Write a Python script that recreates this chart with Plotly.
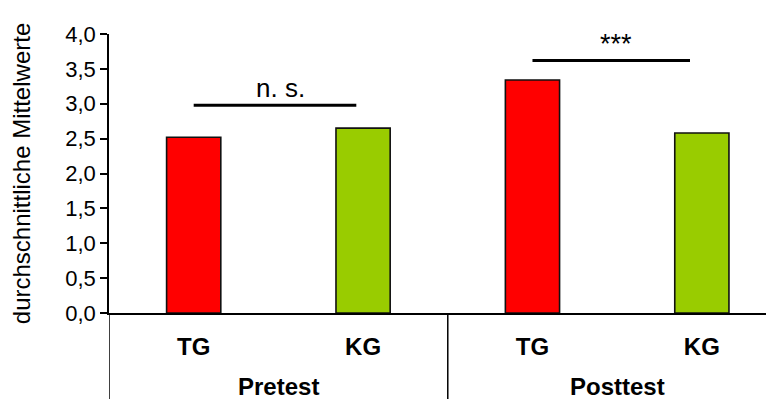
import plotly.graph_objects as go

categories = ["TG", "KG", "TG", "KG"]
groups = ["Pretest", "Posttest"]
values = [2.52, 2.65, 3.34, 2.58]
colors = ["#FF0000", "#99CC00", "#FF0000", "#99CC00"]
y_ticks = [0, 0.5, 1.0, 1.5, 2.0, 2.5, 3.0, 3.5, 4.0]
y_ticklabels = [f"{v:.1f}".replace(".", ",") for v in y_ticks]
sig_labels = ["n. s.", "***"]
sig_heights = [2.98, 3.62]
sig_spans = [(0, 0.96), (2.0, 2.93)]

x = list(range(len(categories)))

fig = go.Figure()
fig.add_trace(go.Bar(
    x=x, y=values, width=0.32,
    marker=dict(color=colors, line=dict(color="#111111", width=1.6)),
    hoverinfo="y",
))

FONT = "Liberation Sans, Arial, sans-serif"

for (x0, x1), h, lab, fs in zip(sig_spans, sig_heights, sig_labels, [26, 27]):
    fig.add_shape(type="line", x0=x0, x1=x1, y0=h, y1=h, xref="x", yref="y",
                  line=dict(color="black", width=3))
    fig.add_annotation(x=(x0 + x1) / 2 + 0.03, y=h, xref="x", yref="y", text=lab,
                       showarrow=False, yanchor="bottom", yshift=0,
                       font=dict(family=FONT, size=fs, color="black"))

# group separators below the axis
for xs in [-0.5, 1.5]:
    fig.add_shape(type="line", x0=xs, x1=xs, y0=0, y1=-0.36, xref="x", yref="paper",
                  line=dict(color="black", width=1.5))

for i, g in enumerate(groups):
    fig.add_annotation(x=2 * i + 0.5, y=-0.265, xref="x", yref="paper",
                       text=f"<b>{g}</b>", showarrow=False, yanchor="middle",
                       font=dict(family=FONT, size=24, color="black"))

fig.update_layout(
    width=774, height=399,
    margin=dict(l=101, r=9, t=26, b=94, autoexpand=False),
    paper_bgcolor="white", plot_bgcolor="white",
    showlegend=False,
    font=dict(family=FONT, color="black"),
    xaxis=dict(
        range=[-0.5, 3.42], tickvals=x,
        ticktext=[f"<b>{c}</b>" for c in categories],
        tickfont=dict(family=FONT, size=24, color="black"),
        showline=True, linecolor="black", linewidth=1.5,
        ticks="", showgrid=False, zeroline=False,
        ticklabelstandoff=11, automargin=False,
    ),
    yaxis=dict(
        range=[0, 4.0], tickvals=y_ticks, ticktext=y_ticklabels,
        tickfont=dict(family=FONT, size=22, color="black"),
        showline=True, linecolor="black", linewidth=1.5,
        ticks="outside", ticklen=7, tickwidth=1.5, tickcolor="black",
        showgrid=False, zeroline=False, automargin=False,
        title=dict(text="durchschnittliche Mittelwerte",
                   font=dict(family=FONT, size=24, color="black"), standoff=28),
    ),
)

fig.write_html("out.html")
